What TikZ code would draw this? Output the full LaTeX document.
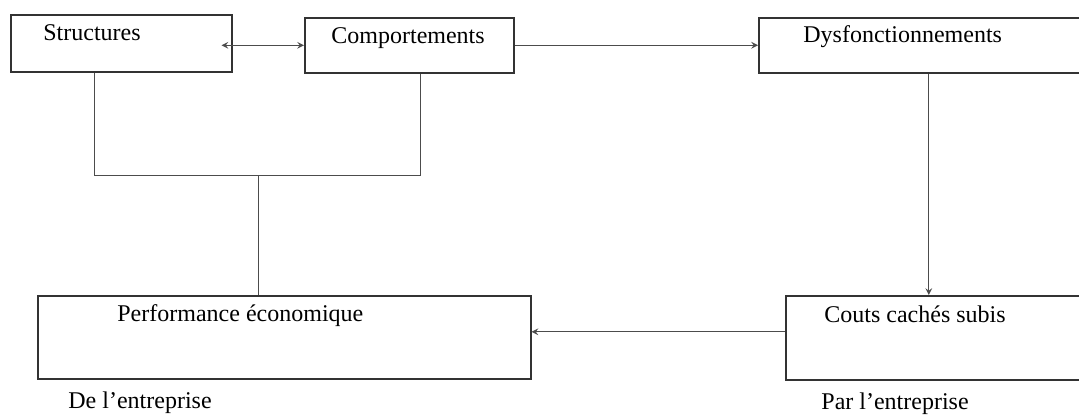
\documentclass[tikz,border=0pt]{standalone}
\usepackage{fontspec}
\setmainfont{Liberation Serif}
\usetikzlibrary{positioning, arrows}
\tikzset{
>=stealth, % small pointed heads
box/.style={draw=black!80, line width=0.75pt, anchor=north west, inner sep=0pt}, % boxes placed by their top left corner
boxtext/.style={anchor=base west, inner sep=0pt, font=\fontsize{12}{14}\selectfont}, % text inside and under the boxes
link/.style={draw=black!70, line width=0.5pt}, % connectors
}

\begin{document}
\begin{tikzpicture}[x=0.5pt, y=-0.5pt]
  \useasboundingbox (0,0) rectangle (1079,414);
  \clip (0,0) rectangle (1079,414);
  % top row
  \node[box, minimum width=110.5pt, minimum height=28.5pt] (struct) at (10,14) {};
  \node[box, minimum width=104.5pt, minimum height=27.5pt] (comp) at (304,17) {};
  \node[box, minimum width=170pt, minimum height=27.5pt] (dysf) at (758,17) {};
  \node[boxtext] (structtext) at ([xshift=16.5pt, yshift=-13pt]struct.north west) {Structures};
  \node[boxtext] (comptext) at ([xshift=13.5pt, yshift=-13pt]comp.north west) {Comportements};
  \node[boxtext] (dysftext) at ([xshift=22.5pt, yshift=-12.5pt]dysf.north west) {Dysfonctionnements};
  % bottom row
  \node[box, minimum width=246.5pt, minimum height=41.5pt] (perf) at (37,295) {};
  \node[box, minimum width=160pt, minimum height=42pt] (couts) at (785,295) {};
  \node[boxtext] (perftext) at ([xshift=40pt, yshift=-13pt]perf.north west) {Performance économique};
  \node[boxtext] (coutstext) at ([xshift=19.5pt, yshift=-13.5pt]couts.north west) {Couts cachés subis};
  \node[boxtext] (perfnote) at ([xshift=15.5pt, yshift=-14.5pt]perf.south west) {De l'entreprise};
  \node[boxtext] (coutsnote) at ([xshift=18pt, yshift=-14.5pt]couts.south west) {Par l'entreprise};
  % connectors
  \coordinate (bl) at (94,175);
  \coordinate (br) at (420,175);
  \coordinate (bm) at (258,175);
  \draw[link, <->] ([xshift=-5.5pt]comp.west -| struct.east) -- (comp.west);
  \draw[link, ->] (comp.east) -- (dysf.west);
  \draw[link, ->] (dysf.south) -- (dysf.south |- couts.north);
  \draw[link, ->] ([yshift=3pt]couts.west) -- ([yshift=3pt]couts.west -| perf.east);
  \draw[link] (bl |- struct.south) -- (bl) -- (br) -- (br |- comp.south);
  \draw[link] (bm) -- (bm |- perf.north);
\end{tikzpicture}
\end{document}
